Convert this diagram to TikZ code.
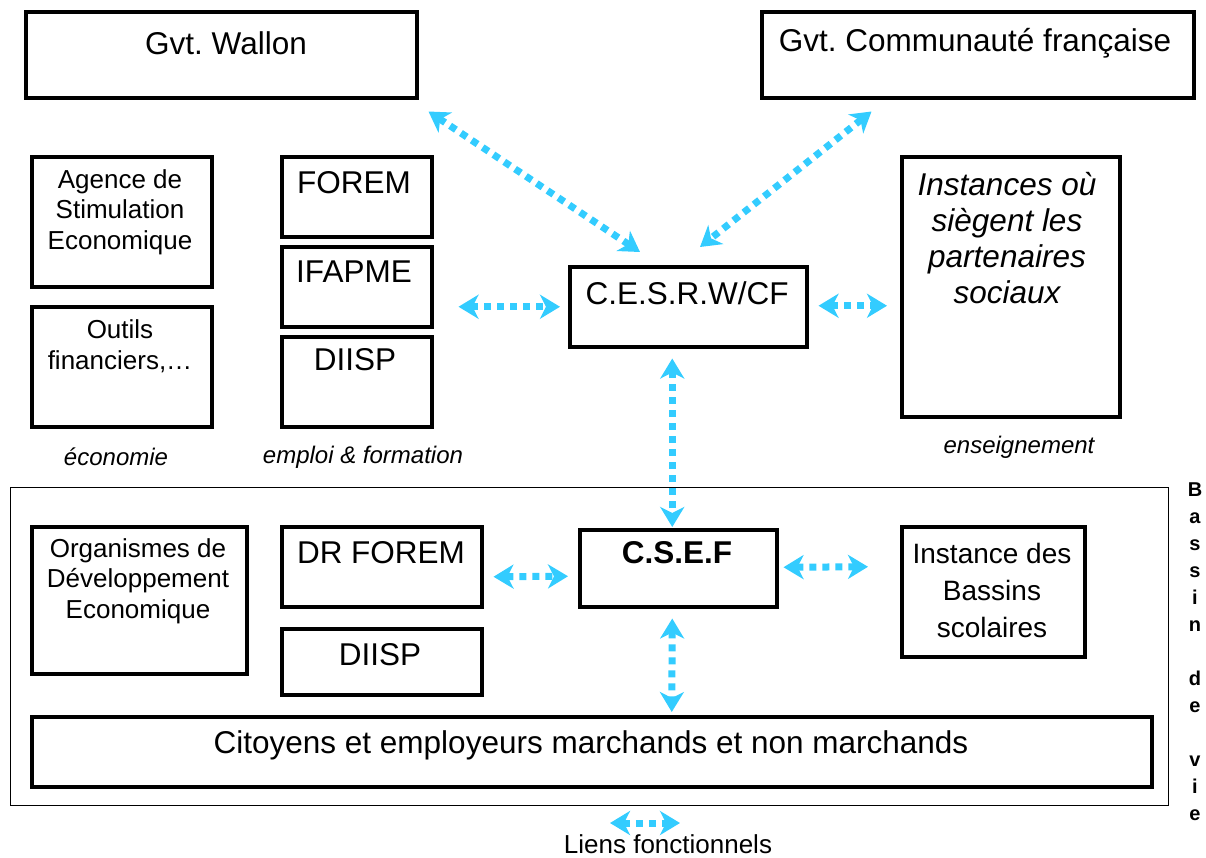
\documentclass[tikz,border=0pt]{standalone}
\usepackage{fontspec}
\setmainfont{Liberation Sans}
\usetikzlibrary{arrows.meta,calc}
\definecolor{linkblue}{RGB}{51,204,255}
\newcommand{\fsbig}{\fontsize{31.5}{36}\selectfont}
\newcommand{\fsmid}{\fontsize{26}{30.5}\selectfont}
\newcommand{\fssmall}{\fontsize{24}{28}\selectfont}
\frenchspacing
\begin{document}
\begin{tikzpicture}[x=1pt,y=-1pt,
  box/.style={draw, line width=3.5pt, inner sep=0pt, anchor=north west},
  lbl/.style={inner sep=0pt, align=center},
  link/.style={draw=linkblue, line width=7pt, dash pattern=on 7pt off 6pt,
    {Stealth[length=20pt,width=24pt,inset=6pt]}-{Stealth[length=20pt,width=24pt,inset=6pt]}}]
\useasboundingbox (0,0) rectangle (1206,857);
% frame
\node[draw, line width=1.2pt, inner sep=0pt, anchor=north west, minimum width=1158pt, minimum height=318pt] (bassin) at (10,487) {};
% top boxes
\node[box, minimum width=391pt, minimum height=86pt] (gw) at (24,10) {};
\node[lbl, font=\fsbig] (tgw) at (226,43) {Gvt. Wallon};
\node[box, minimum width=432pt, minimum height=86pt] (gcf) at (760,10) {};
\node[lbl, font=\fsbig] (tgcf) at (975,43) {Gvt. Communauté française};
% economie
\node[box, minimum width=180pt, minimum height=130pt] (ase) at (30,155) {};
\node[lbl, font=\fsmid] (tase) at (120,212) {Agence de\\Stimulation\\Economique};
\node[box, minimum width=180pt, minimum height=120pt] (of) at (30,305) {};
\node[lbl, font=\fsmid] (tof) at (120,346) {Outils\\financiers,…};
% emploi
\node[box, minimum width=150pt, minimum height=80pt] (forem) at (280,155) {};
\node[lbl, font=\fsbig] (tforem) at (354,183) {FOREM};
\node[box, minimum width=150pt, minimum height=80pt] (ifapme) at (280,245) {};
\node[lbl, font=\fsbig] (tifapme) at (354,272) {IFAPME};
\node[box, minimum width=150pt, minimum height=90pt] (diisp) at (280,335) {};
\node[lbl, font=\fsbig] (tdiisp) at (355,360) {DIISP};
% cesrw
\node[box, minimum width=237pt, minimum height=80pt] (cesr) at (568,265) {};
\node[lbl, font=\fsbig] (tcesr) at (687,293) {C.E.S.R.W/CF};
% instances
\node[box, minimum width=218pt, minimum height=260pt] (inst) at (900,155) {};
\node[lbl, font=\fsbig\itshape] (tinst) at (1007,238) {Instances où\\siègent les\\partenaires\\sociaux};
% sector labels
\node[lbl, font=\fssmall\itshape] (leco) at (116,457) {économie};
\node[lbl, font=\fssmall\itshape] (lemp) at (363,457) {emploi \& formation};
\node[lbl, font=\fssmall\itshape] (lens) at (1019,447) {enseignement};
% lower boxes
\node[box, minimum width=215pt, minimum height=147pt] (ode) at (30,525) {};
\node[lbl, font=\fsmid] (tode) at (138,581) {Organismes de\\Développement\\Economique};
\node[box, minimum width=200pt, minimum height=80pt] (drf) at (280,525) {};
\node[lbl, font=\fsbig] (tdrf) at (381,553) {DR FOREM};
\node[box, minimum width=200pt, minimum height=66pt] (diisp2) at (280,627) {};
\node[lbl, font=\fsbig] (tdiisp2) at (380,655) {DIISP};
\node[box, minimum width=197pt, minimum height=77pt] (csef) at (578,528) {};
\node[lbl, font=\fsbig\bfseries] (tcsef) at (677,553) {C.S.E.F};
\node[box, minimum width=183pt, minimum height=130pt] (ibs) at (900,525) {};
\node[lbl, font=\fontsize{28}{37}\selectfont] (tibs) at (992,590) {Instance des\\Bassins\\scolaires};
\node[box, minimum width=1120pt, minimum height=70pt] (cit) at (30,715) {};
\node[lbl, font=\fsbig] (tcit) at (591,745) {Citoyens et employeurs marchands et non marchands};
% vertical label
\node[lbl, font=\fontsize{20}{27}\selectfont\bfseries, anchor=north] (tbv) at (1195,483) {B\\a\\s\\s\\i\\n\\[27pt]d\\e\\[27pt]v\\i\\e};
% legend
\coordinate (lg1) at (610,823);
\coordinate (lg2) at (680,823);
\node[lbl, font=\fsmid] (tlg) at (668,844) {Liens fonctionnels};
% connectors
\draw[link] ($(gw.south east)+(10,12)$) -- ($(cesr.north west)+(72,-13)$);
\draw[link] ($(gcf.south east)+(-324,12)$) -- ($(cesr.north west)+(132,-18)$);
\draw[link] ($(ifapme.east)+(25,20)$) -- ($(cesr.west)+(-8,0)$);
\draw[link] ($(cesr.east)+(10,-1)$) -- ($(inst.west)+(-13,19)$);
\draw[link] ($(cesr.south)+(-16,10)$) -- ($(csef.north)+(-6,-1)$);
\draw[link] ($(drf.east)+(10,10)$) -- ($(csef.west)+(-10,8)$);
\draw[link] ($(csef.east)+(5,-1)$) -- ($(ibs.west)+(-32,-25)$);
\draw[link] ($(csef.south)+(-6,10)$) -- ($(cit.north)+(80,-3)$);
\draw[link] (lg1) -- (lg2);
\end{tikzpicture}
\end{document}
